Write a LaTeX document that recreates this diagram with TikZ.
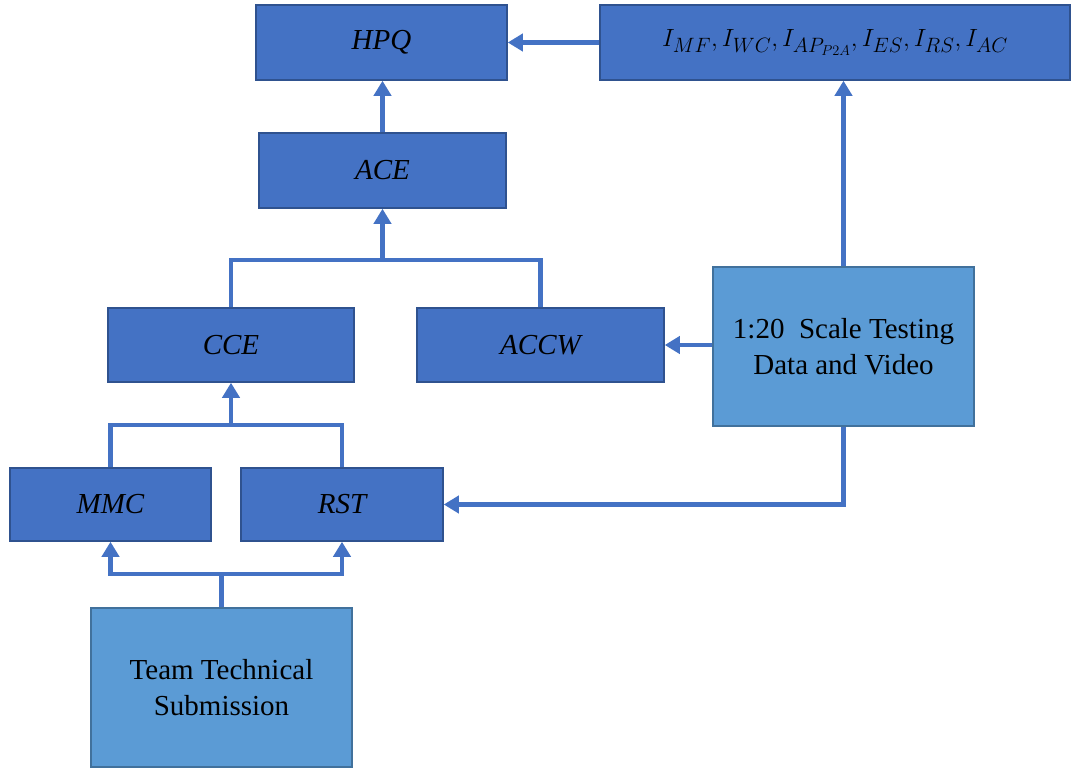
\documentclass[tikz,border=0pt]{standalone}
\usepackage{fontspec}
\setmainfont{Liberation Serif}
\usetikzlibrary{arrows.meta,calc}
\definecolor{darkfill}{HTML}{4472C4}
\definecolor{darkedge}{HTML}{2F528F}
\definecolor{lightfill}{HTML}{5B9BD5}
\definecolor{lightedge}{HTML}{41719C}
\definecolor{linkc}{HTML}{4472C4}
\begin{document}
\begin{tikzpicture}[x=1pt,y=-1pt,
  darkbox/.style={draw=darkedge,fill=darkfill,line width=1.5pt,inner sep=0pt,
    font=\fontsize{29}{33}\selectfont\itshape},
  lightbox/.style={draw=lightedge,fill=lightfill,line width=1.5pt,inner sep=0pt,align=center,
    font=\fontsize{29}{36}\selectfont},
  link/.style={draw=linkc,line width=4.5pt},
  conn/.style={link,-{Triangle[width=17pt,length=15pt]}}]
\useasboundingbox (0,0) rectangle (1074,768);
\node[darkbox,minimum width=251pt,minimum height=75pt] (HPQ) at (381.5,42.5) {HPQ};
\node[darkbox,minimum width=470pt,minimum height=75pt,font=\fontsize{28}{32}\selectfont] (I) at (835,42.5)
  {$I_{MF}, I_{WC}, I_{AP_{P2A}}, I_{ES}, I_{RS}, I_{AC}$};
\node[darkbox,minimum width=247pt,minimum height=75pt] (ACE) at (382.5,170.5) {ACE};
\node[darkbox,minimum width=246pt,minimum height=74pt] (CCE) at (231,345) {CCE};
\node[darkbox,minimum width=247pt,minimum height=74pt] (ACCW) at (540.5,345) {ACCW};
\node[darkbox,minimum width=201pt,minimum height=73pt] (MMC) at (110.5,504.5) {MMC};
\node[darkbox,minimum width=202pt,minimum height=73pt] (RST) at (342,504.5) {RST};
\node[lightbox,minimum width=261pt,minimum height=159pt] (T) at (221.5,687.5) {Team Technical\\Submission};
\node[lightbox,minimum width=261pt,minimum height=159pt] (S) at (843.5,346.5) {1:20\ \ Scale Testing\\Data and Video};
\coordinate (j1) at (382.5,260);
\coordinate (j2) at (231,425);
\coordinate (j3) at (221.5,574);
\draw[conn] (I.west) -- (HPQ.east);
\draw[conn] (S.north) -- (S.north |- I.south);
\draw[conn] (S.west |- ACCW.east) -- (ACCW.east);
\draw[conn] (S.south) |- (RST.east);
\draw[conn] (ACE.north) -- (ACE.north |- HPQ.south);
\draw[link] (CCE.north) |- (j1) -| (ACCW.north);
\draw[conn] (j1) -- (ACE.south);
\draw[link] (MMC.north) |- (j2) -| (RST.north);
\draw[conn] (j2) -- (CCE.south);
\draw[link] (T.north) -- (j3);
\draw[conn] (j3) -| (MMC.south);
\draw[conn] (j3) -| (RST.south);
\end{tikzpicture}
\end{document}
